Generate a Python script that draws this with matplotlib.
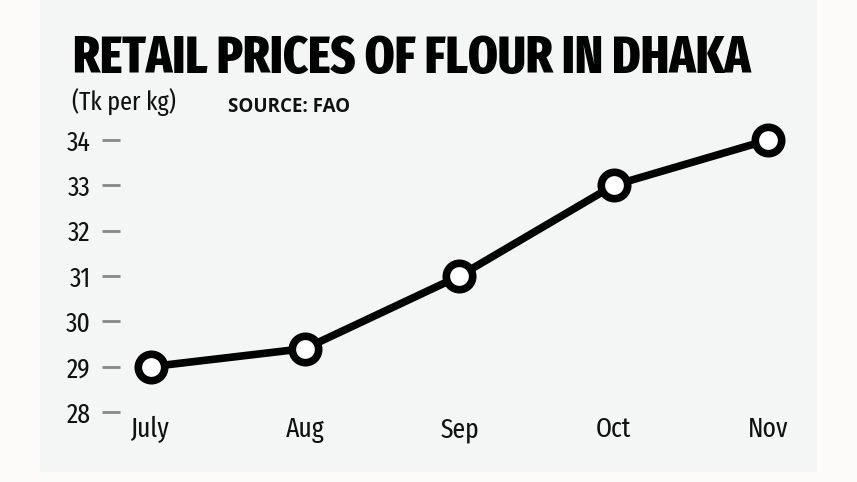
import matplotlib.pyplot as plt
from matplotlib.patches import Rectangle
from matplotlib import font_manager

months = ['July', 'Aug', 'Sep', 'Oct', 'Nov']
prices = [29, 29.4, 31, 33, 34]
yticks = [28, 29, 30, 31, 32, 33, 34]

W, H = 857, 482
names = {f.name for f in font_manager.fontManager.ttflist}


def pick(*cands):
    for c in cands:
        if c in names:
            return c
    return 'DejaVu Sans'


narrow = pick('Fira Sans Extra Condensed', 'PT Sans Narrow', 'Fira Sans Condensed', 'Archivo Narrow')
wide = pick('Open Sans', 'DejaVu Sans')

fig = plt.figure(figsize=(W / 100, H / 100), dpi=100, facecolor='#fdfafa')
fig.patches.append(Rectangle((40 / W, 1 - 472 / H), 777 / W, 472 / H,
                             transform=fig.transFigure, facecolor='#f4f6f6',
                             edgecolor='none', zorder=-5))

ax = fig.add_axes([120 / W, 1 - 412 / H, 680 / W, 272 / H])
ax.set_facecolor('none')
x = list(range(len(months)))
ax.plot(x, prices, color='black', lw=5.5, marker='o', ms=19, mfc='white',
        mec='black', mew=5.5, clip_on=False)
ax.set_xlim(-0.2, 4.207)
ax.set_ylim(28, 34)
for s in ax.spines.values():
    s.set_visible(False)
ax.set_yticks(yticks)
ax.set_xticks(x)
ax.set_xticklabels(months)
ax.tick_params(axis='y', length=13, width=2, color='#888888', pad=8,
               labelsize=20)
ax.tick_params(axis='x', length=0, pad=3, labelsize=20)
for lab in ax.get_xticklabels() + ax.get_yticklabels():
    lab.set_family(narrow)
    lab.set_color('#111111')

title = fig.text(73 / W, 1 - 73 / H, 'RETAIL PRICES OF FLOUR IN DHAKA',
                 family=narrow, weight='heavy', fontsize=36, color='black')
# fit the title to its width in the reference (about 680 px)
r = fig.canvas.get_renderer()
w = title.get_window_extent(r).width
title.set_fontsize(36 * 680 / w)

fig.text(72 / W, 1 - 110 / H, '(Tk per kg)', family=narrow, fontsize=19,
         color='#111111')
fig.text(228 / W, 1 - 112 / H, 'SOURCE: FAO', family=wide, weight='bold',
         fontsize=13.5, color='#111111')

fig.savefig('out.png', dpi=100, facecolor=fig.get_facecolor())
